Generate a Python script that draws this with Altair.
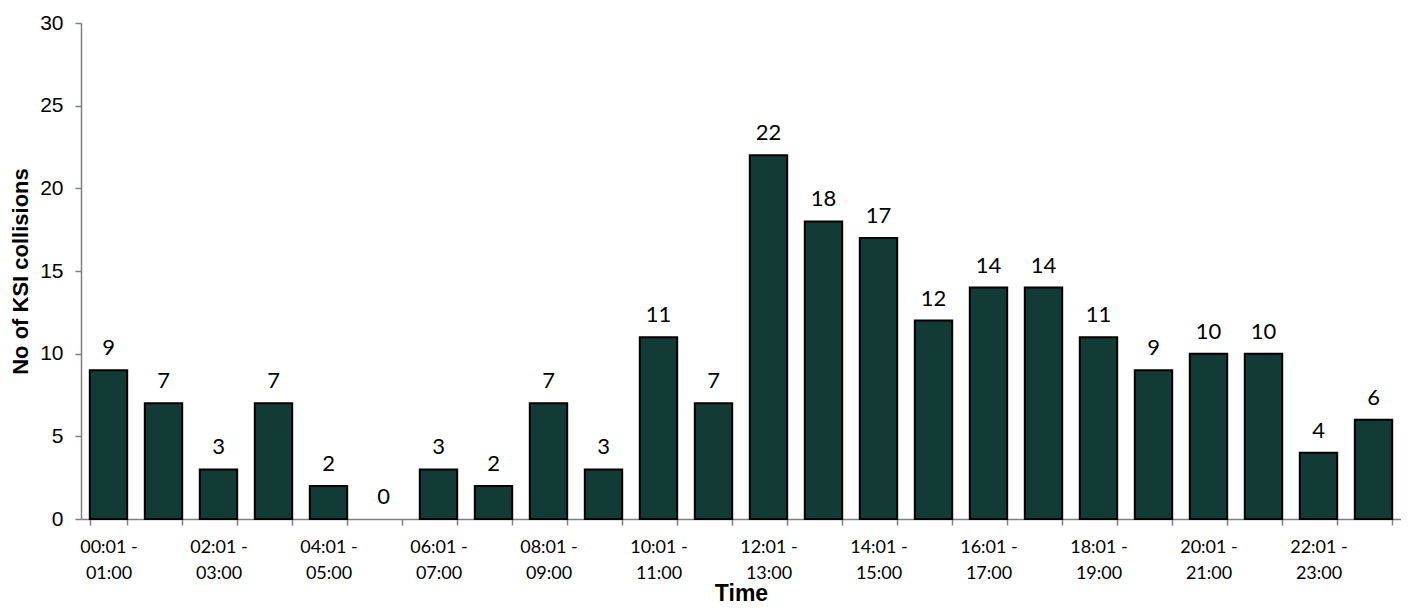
import altair as alt
import pandas as pd

categories = [
    "00:01 - 01:00", "01:01 - 02:00", "02:01 - 03:00", "03:01 - 04:00",
    "04:01 - 05:00", "05:01 - 06:00", "06:01 - 07:00", "07:01 - 08:00",
    "08:01 - 09:00", "09:01 - 10:00", "10:01 - 11:00", "11:01 - 12:00",
    "12:01 - 13:00", "13:01 - 14:00", "14:01 - 15:00", "15:01 - 16:00",
    "16:01 - 17:00", "17:01 - 18:00", "18:01 - 19:00", "19:01 - 20:00",
    "20:01 - 21:00", "21:01 - 22:00", "22:01 - 23:00", "23:01 - 00:00",
]
values = [9, 7, 3, 7, 2, 0, 3, 2, 7, 3, 11, 7, 22, 18, 17, 12, 14, 14, 11, 9, 10, 10, 4, 6]
y_ticks = [0, 5, 10, 15, 20, 25, 30]

df = pd.DataFrame({"time": categories, "count": values})

x = alt.X(
    "time:N",
    sort=categories,
    scale=alt.Scale(paddingInner=0.32, paddingOuter=0.16),
    axis=alt.Axis(
        title="Time",
        titleFont="Liberation Sans",
        titleFontSize=23,
        titleFontWeight="bold",
        titleColor="black",
        titlePadding=0,
        labelFont="Lato",
        labelFontSize=18,
        labelColor="black",
        labelAngle=0,
        labelPadding=13,
        labelLineHeight=26,
        labelOverlap=False,
        labelExpr="toNumber(slice(datum.label,0,2)) % 2 == 0 ? [slice(datum.label,0,7), slice(datum.label,8)] : ''",
        tickBand="extent",
        tickSize=6,
        tickColor="#808080",
        domainColor="#808080",
        domainWidth=1.5,
        tickWidth=1.5,
        grid=False,
    ),
)

y = alt.Y(
    "count:Q",
    scale=alt.Scale(domain=[0, 30], nice=False),
    axis=alt.Axis(
        title="No of KSI collisions",
        titleFont="Liberation Sans",
        titleFontSize=22,
        titleFontWeight="bold",
        titleColor="black",
        titlePadding=7,
        labelFont="Liberation Sans",
        labelFontSize=21,
        labelColor="black",
        labelPadding=12,
        values=y_ticks,
        grid=False,
        tickSize=6,
        tickColor="#808080",
        domainColor="#808080",
        domainWidth=1.5,
        tickWidth=1.5,
    ),
)

bars = alt.Chart(df).mark_bar(
    color="#123b35", stroke="black", strokeWidth=2
).encode(
    x=x,
    y=y,
    strokeOpacity=alt.condition("datum.count > 0", alt.value(1), alt.value(0)),
)

labels = alt.Chart(df).mark_text(
    baseline="bottom", dy=-10, font="Lato", fontSize=22, color="black"
).encode(
    x=alt.X("time:N", sort=categories),
    y=alt.Y("count:Q"),
    text="count:Q",
)

chart = (
    alt.layer(bars, labels)
    .properties(
        width=1320,
        height=496,
        background="white",
        padding={"top": 4, "left": 1, "right": 0, "bottom": 0},
    )
    .configure_view(strokeWidth=0)
)

chart.save("out.html", embed_options={"renderer": "svg", "actions": False})
